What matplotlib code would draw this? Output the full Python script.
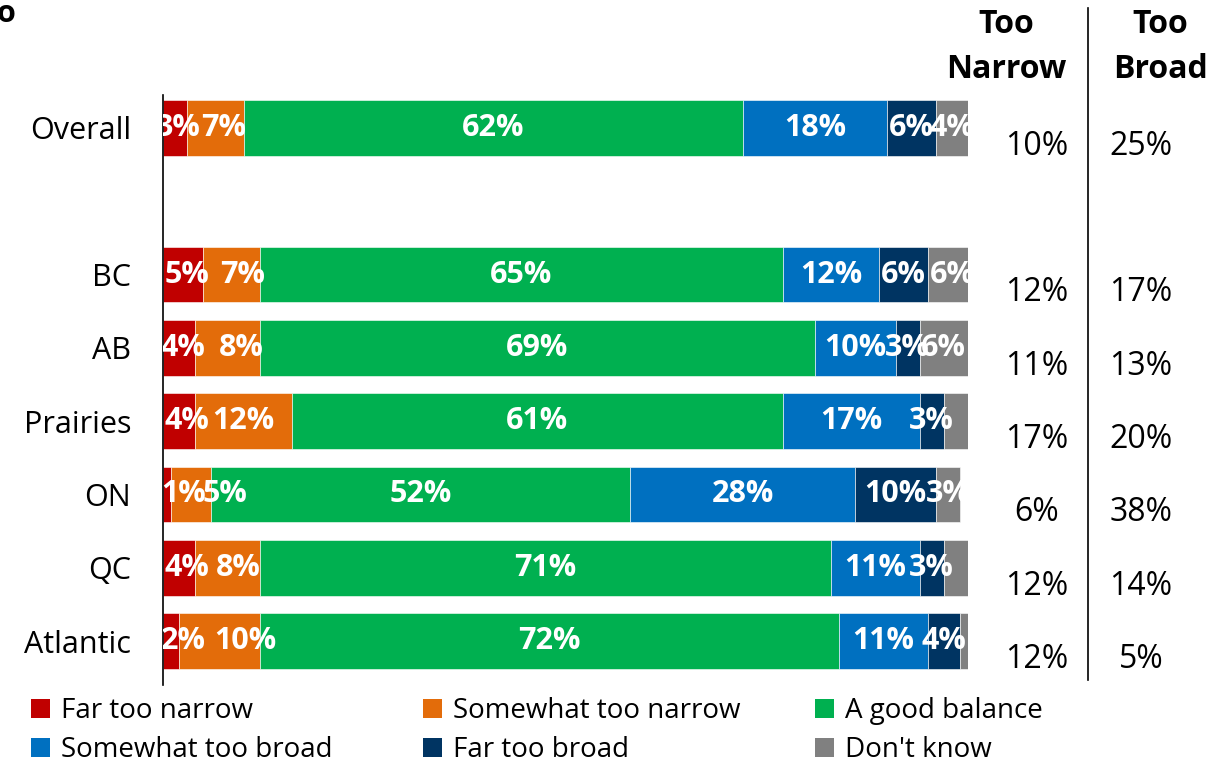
import matplotlib
matplotlib.use("Agg")
import matplotlib.pyplot as plt
import matplotlib.transforms as mtransforms
from matplotlib.lines import Line2D
from matplotlib.patches import Patch

plt.rcParams['font.family'] = ['Open Sans', 'DejaVu Sans']

regions = ['Overall', 'BC', 'AB', 'Prairies', 'ON', 'QC', 'Atlantic']
ypos = [0, 2, 3, 4, 5, 6, 7]

series = ['Far too narrow', 'Somewhat too narrow', 'A good balance',
          'Somewhat too broad', 'Far too broad', "Don't know"]
colors = ['#C00000', '#E36C0A', '#00B050', '#0070C0', '#003462', '#808080']

far_narrow = [3, 5, 4, 4, 1, 4, 2]
some_narrow = [7, 7, 8, 12, 5, 8, 10]
balance = [62, 65, 69, 61, 52, 71, 72]
some_broad = [18, 12, 10, 17, 28, 11, 11]
far_broad = [6, 6, 3, 3, 10, 3, 4]
dont_know = [4, 6, 6, 3, 3, 3, 1]
# small don't-know slices without a printed label
dk_labelled = [True, True, True, False, True, False, False]

too_narrow = [10, 12, 11, 17, 6, 12, 12]
too_broad = [25, 17, 13, 20, 38, 14, 5]

values = [far_narrow, some_narrow, balance, some_broad, far_broad, dont_know]

# labels in the thin left-hand slices are nudged right (in points)
nudge = {(0, 0): 2, (0, 1): 6, (1, 0): 3, (1, 1): 8, (2, 0): 3, (2, 1): 10,
         (3, 0): 6, (4, 0): 12, (4, 1): 24, (5, 0): 6, (5, 1): 8,
         (6, 0): 9, (6, 1): 19}

fig = plt.figure(figsize=(12.12, 7.65), dpi=100)
W, H = 1212, 765
ax = fig.add_axes([163 / W, 1 - 685 / H, (968 - 163) / W, (685 - 95) / H])

left = [0] * len(regions)
for k, (vals, col, name) in enumerate(zip(values, colors, series)):
    ax.barh(ypos, vals, left=left, height=0.76, color=col, label=name,
            edgecolor='white', linewidth=0.4)
    for i, v in enumerate(vals):
        if k == 5 and not dk_labelled[i]:
            continue
        ax.annotate(f'{v}%', (left[i] + v / 2, ypos[i]),
                    xytext=(nudge.get((i, k), 0), 0), textcoords='offset points',
                    ha='center', va='center', color='white', fontsize=22,
                    fontweight='bold', annotation_clip=False, clip_on=True)
    left = [a + b for a, b in zip(left, vals)]

ax.set_xlim(0, 100)
ax.set_ylim(7.6, -0.45)
ax.set_yticks(ypos)
ax.set_yticklabels(regions, fontsize=22)
ax.tick_params(axis='y', length=0, pad=23)
ax.set_xticks([])
for s in ['top', 'right', 'bottom']:
    ax.spines[s].set_visible(False)
ax.spines['left'].set_linewidth(1.2)

# net columns on the right
tr = mtransforms.blended_transform_factory(fig.transFigure, ax.transData)
for i, y in enumerate(ypos):
    ax.text(1037 / W, y + 0.25, f'{too_narrow[i]}%', transform=tr,
            ha='center', va='center', fontsize=23, clip_on=False)
    ax.text(1141 / W, y + 0.25, f'{too_broad[i]}%', transform=tr,
            ha='center', va='center', fontsize=23, clip_on=False)

fig.text(1006 / W, 1 - 47 / H, 'Too\nNarrow', ha='center', va='center',
         fontsize=23, fontweight='bold', linespacing=1.45)
fig.text(1160 / W, 1 - 47 / H, 'Too\nBroad', ha='center', va='center',
         fontsize=23, fontweight='bold', linespacing=1.45)
fig.add_artist(Line2D([1088 / W, 1088 / W], [1 - 8 / H, 1 - 680 / H],
                      color='black', linewidth=1.2))

# cut-off heading at the top left
fig.text(-3 / W, 1 - 14 / H, 'o', ha='left', va='center',
         fontsize=22, fontweight='bold')

# legend: three columns, two rows
handles = [Patch(facecolor=c, label=n) for c, n in zip(colors, series)]
col_x = [28, 420, 812]
for c in range(3):
    pair = [handles[c], handles[c + 3]]
    fig.legend(pair, [h.get_label() for h in pair], loc='upper left',
               bbox_to_anchor=(col_x[c] / W, 1 - 694 / H), frameon=False,
               fontsize=20, handlelength=0.68, handleheight=0.68,
               handletextpad=0.4, labelspacing=0.42, borderaxespad=0,
               borderpad=0.1)

fig.savefig('out.png', dpi=100)
